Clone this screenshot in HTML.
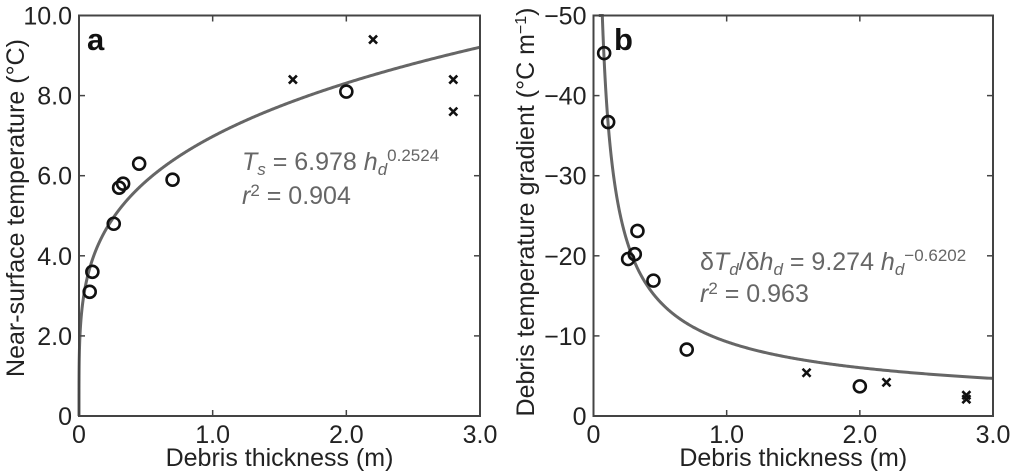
<!DOCTYPE html>
<html><head><meta charset="utf-8"><style>
body{margin:0;background:#fff;}
svg{display:block;font-family:"Liberation Sans",Arial,sans-serif;}
</style></head><body>
<svg id="chart" width="1011" height="476" viewBox="0 0 1011 476"></svg>
<script>
const aCircX=[0.08,0.1,0.26,0.3,0.33,0.45,0.7,2.0];
const aCircY=[3.1,3.6,4.8,5.7,5.8,6.3,5.9,8.1];
const aCrossX=[1.6,2.2,2.8,2.8];
const aCrossY=[8.4,9.4,8.4,7.6];
const bCircX=[0.08,0.11,0.26,0.31,0.33,0.45,0.7,2.0];
const bCircY=[-45.3,-36.7,-19.6,-20.2,-23.1,-16.9,-8.3,-3.7];
const bCrossX=[1.6,2.2,2.8,2.8];
const bCrossY=[-5.4,-4.2,-2.6,-2.1];
const xTicks=[0,1,2,3];
const xTickLabels=["0","1.0","2.0","3.0"];
const aYTicks=[0,2,4,6,8,10];
const aYTickLabels=["0","2.0","4.0","6.0","8.0","10.0"];
const bYTicks=[0,-10,-20,-30,-40,-50];
const bYTickLabels=["0","\u221210","\u221220","\u221230","\u221240","\u221250"];
const fitA=[6.978,0.2524];
const fitB=[9.274,-0.6202];

const NS="http://www.w3.org/2000/svg";
const svg=document.getElementById('chart');
function mk(tag,attrs,parent){const e=document.createElementNS(NS,tag);for(const k in attrs)e.setAttribute(k,attrs[k]);(parent||svg).appendChild(e);return e;}

function panel(cfg){
  const g=mk('g',{});
  
  
  const L=cfg.left,R=cfg.right,T=15.5,B=416;
  const sx=v=>L+(v-0)/3*(R-L);
  const sy=v=>B-(v-cfg.y0)/(cfg.y1-cfg.y0)*(B-T);
  let d="";
  const x0=cfg.fitStart;
  for(let i=0;i<=800;i++){const x=x0+(3-x0)*Math.pow(i/800,4);let y=cfg.fit[0]*Math.pow(x,cfg.fit[1]);if(cfg.neg)y=-y;let py=sy(y);py=Math.max(T,Math.min(B,py));d+=(i?"L":"M")+sx(x).toFixed(2)+","+py.toFixed(2);}
  if(!cfg.neg)d="M"+sx(0)+","+sy(0)+"L"+d.slice(1);
  const c=mk('path',{d:d,fill:"none",stroke:"#666",'stroke-width':3},g);
  
  
  const fr=mk('rect',{x:L,y:T,width:R-L,height:B-T,fill:"none",stroke:"#444",'stroke-width':2},g);
  
  
  xTicks.forEach((v,i)=>{
    mk('line',{x1:sx(v),x2:sx(v),y1:B,y2:B-6,stroke:"#444",'stroke-width':1.5},g);
    mk('line',{x1:sx(v),x2:sx(v),y1:T,y2:T+6,stroke:"#444",'stroke-width':1.5},g);
    const t=mk('text',{x:sx(v),y:B+27,'text-anchor':'middle','font-size':25,fill:'#222'},g);
    t.textContent=xTickLabels[i];
    
    
  });
  cfg.yTicks.forEach((v,i)=>{
    mk('line',{x1:L,x2:L+6,y1:sy(v),y2:sy(v),stroke:"#444",'stroke-width':1.5},g);
    mk('line',{x1:R,x2:R-6,y1:sy(v),y2:sy(v),stroke:"#444",'stroke-width':1.5},g);
    const t=mk('text',{x:L-7,y:sy(v)+9,'text-anchor':'end','font-size':25,fill:'#222'},g);
    t.textContent=cfg.yLabels[i];
    
    
  });
  cfg.cx.forEach((x,i)=>{
    const p=mk('circle',{cx:sx(x),cy:sy(cfg.cy[i]),r:6,fill:'none',stroke:'#111','stroke-width':2.6},g);
    
    
  });
  cfg.xx.forEach((x,i)=>{
    const px=sx(x),py=sy(cfg.xy[i]),s=4;
    const p=mk('path',{d:`M${px-s},${py-s}L${px+s},${py+s}M${px-s},${py+s}L${px+s},${py-s}`,stroke:'#111','stroke-width':2.6},g);
    
    
  });
  const xt=mk('text',{x:(L+R)/2,y:466,'text-anchor':'middle','font-size':25,fill:'#222'},g);
  xt.textContent="Debris thickness (m)";
  
  
  return {g,sx,sy,L,R,T,B};
}

const A=panel({name:'panel-a',left:79,right:480,y0:0,y1:10,yTicks:aYTicks,yLabels:aYTickLabels,cx:aCircX,cy:aCircY,xx:aCrossX,xy:aCrossY,fit:fitA,neg:false,fitStart:1e-9});
const B=panel({name:'panel-b',left:593.5,right:993,y0:0,y1:-50,yTicks:bYTicks,yLabels:bYTickLabels,cx:bCircX,cy:bCircY,xx:bCrossX,xy:bCrossY,fit:fitB,neg:true,fitStart:0.04});
</script>
<svg width="1011" height="476" style="position:absolute;left:0;top:0" font-family="Liberation Sans, Arial, sans-serif">
<text x="87" y="50" font-size="31" font-weight="bold" fill="#111">a</text>
<text x="614" y="50" font-size="31" font-weight="bold" fill="#111">b</text>
<text transform="translate(24,208) rotate(-90)" text-anchor="middle" font-size="25" fill="#222">Near-surface temperature (°C)</text>
<text transform="translate(534,212) rotate(-90)" text-anchor="middle" font-size="25" fill="#222">Debris temperature gradient (°C m<tspan font-size="16" dy="-8">−1</tspan><tspan dy="8">)</tspan></text>
<text x="242" y="170" font-size="25" fill="#666"><tspan font-style="italic">T</tspan><tspan font-style="italic" font-size="17" dy="5">s</tspan><tspan dy="-5"> = 6.978 </tspan><tspan font-style="italic">h</tspan><tspan font-style="italic" font-size="17" dy="5">d</tspan><tspan font-size="17" dy="-14">0.2524</tspan></text>
<text x="242" y="204" font-size="25" fill="#666"><tspan font-style="italic">r</tspan><tspan font-size="17" dy="-8">2</tspan><tspan dy="8"> = 0.904</tspan></text>
<text x="700" y="270" font-size="25" fill="#666">δ<tspan font-style="italic">T</tspan><tspan font-style="italic" font-size="17" dy="5">d</tspan><tspan dy="-5">/δ</tspan><tspan font-style="italic">h</tspan><tspan font-style="italic" font-size="17" dy="5">d</tspan><tspan dy="-5"> = 9.274 </tspan><tspan font-style="italic">h</tspan><tspan font-style="italic" font-size="17" dy="5">d</tspan><tspan font-size="17" dy="-14">−0.6202</tspan></text>
<text x="700" y="302" font-size="25" fill="#666"><tspan font-style="italic">r</tspan><tspan font-size="17" dy="-8">2</tspan><tspan dy="8"> = 0.963</tspan></text>
</svg>
</body></html>
